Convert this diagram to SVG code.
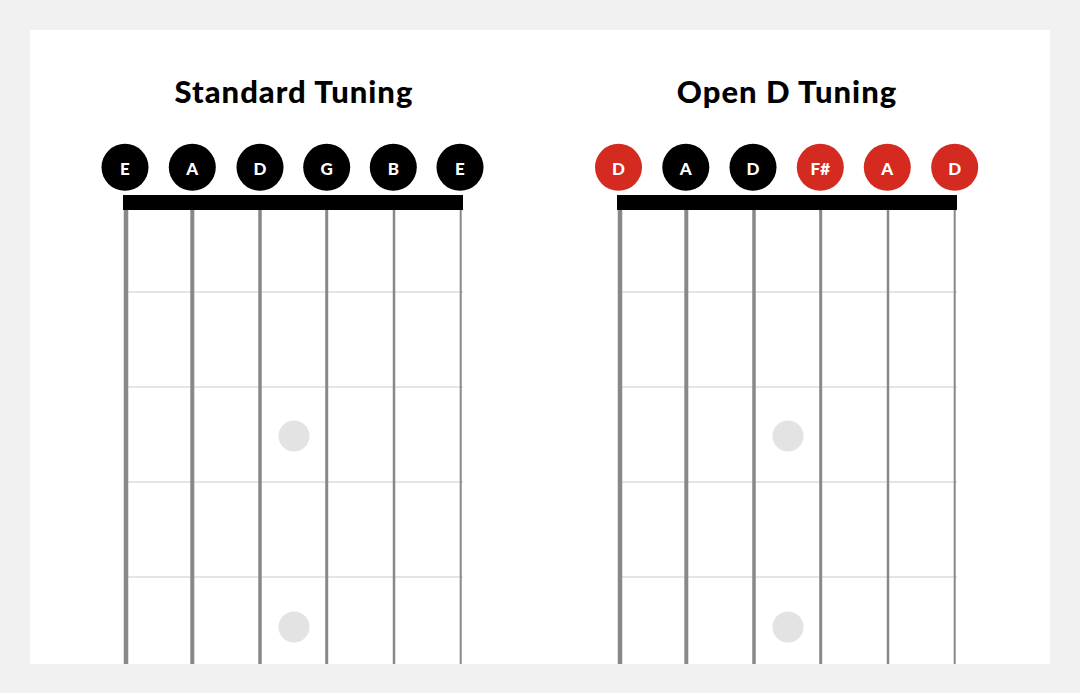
<svg xmlns="http://www.w3.org/2000/svg" width="1080" height="693" viewBox="0 0 1080 693">
<style>
.title{font-family:"Lato","Liberation Sans",sans-serif;font-weight:900;font-size:31px;letter-spacing:1px;fill:#000;text-anchor:middle}
.note{font-family:"Lato","Liberation Sans",sans-serif;font-weight:900;font-size:17px;fill:#fff;text-anchor:middle;dominant-baseline:central}
.blk{fill:#000}
.red{fill:#d42a1f}
.fret{stroke:#dcdcdc;stroke-width:1.5}
.str{stroke:#888}
.dot{fill:#e3e3e3}
</style>
<rect width="1080" height="693" fill="#f1f1f1"/>
<rect x="30" y="30" width="1020" height="634" fill="#fff"/>
<g id="standard">
<text class="title" x="294" y="103">Standard Tuning</text>
<g id="std-frets">
<line class="fret" x1="126" y1="292" x2="463" y2="292"/>
<line class="fret" x1="126" y1="387" x2="463" y2="387"/>
<line class="fret" x1="126" y1="482" x2="463" y2="482"/>
<line class="fret" x1="126" y1="577" x2="463" y2="577"/>
</g>
<circle class="dot" cx="294" cy="436" r="15.5"/>
<circle class="dot" cx="294" cy="627" r="15.5"/>
<g id="std-strings">
<line class="str" x1="126" y1="205" x2="126" y2="664" stroke-width="4.5"/>
<line class="str" x1="192.3" y1="205" x2="192.3" y2="664" stroke-width="4"/>
<line class="str" x1="260" y1="205" x2="260" y2="664" stroke-width="3.5"/>
<line class="str" x1="326.7" y1="205" x2="326.7" y2="664" stroke-width="3"/>
<line class="str" x1="394" y1="205" x2="394" y2="664" stroke-width="2.5"/>
<line class="str" x1="460.7" y1="205" x2="460.7" y2="664" stroke-width="2"/>
</g>
<rect class="blk" x="123" y="195" width="340" height="15"/>
<g id="std-E6"><circle class="blk" cx="125" cy="167.3" r="23.5"/><text class="note" x="125" y="168">E</text></g>
<g id="std-A"><circle class="blk" cx="192.3" cy="167.3" r="23.5"/><text class="note" x="192.3" y="168">A</text></g>
<g id="std-D"><circle class="blk" cx="260" cy="167.3" r="23.5"/><text class="note" x="260" y="168">D</text></g>
<g id="std-G"><circle class="blk" cx="326.7" cy="167.3" r="23.5"/><text class="note" x="326.7" y="168">G</text></g>
<g id="std-B"><circle class="blk" cx="393.3" cy="167.3" r="23.5"/><text class="note" x="393.3" y="168">B</text></g>
<g id="std-E1"><circle class="blk" cx="460" cy="167.3" r="23.5"/><text class="note" x="460" y="168">E</text></g>
</g>
<g id="openD">
<text class="title" x="787" y="103">Open D Tuning</text>
<g id="od-frets">
<line class="fret" x1="620" y1="292" x2="957" y2="292"/>
<line class="fret" x1="620" y1="387" x2="957" y2="387"/>
<line class="fret" x1="620" y1="482" x2="957" y2="482"/>
<line class="fret" x1="620" y1="577" x2="957" y2="577"/>
</g>
<circle class="dot" cx="788" cy="436" r="15.5"/>
<circle class="dot" cx="788" cy="627" r="15.5"/>
<g id="od-strings">
<line class="str" x1="620" y1="205" x2="620" y2="664" stroke-width="4.5"/>
<line class="str" x1="686.3" y1="205" x2="686.3" y2="664" stroke-width="4"/>
<line class="str" x1="754" y1="205" x2="754" y2="664" stroke-width="3.5"/>
<line class="str" x1="820.7" y1="205" x2="820.7" y2="664" stroke-width="3"/>
<line class="str" x1="888" y1="205" x2="888" y2="664" stroke-width="2.5"/>
<line class="str" x1="954.7" y1="205" x2="954.7" y2="664" stroke-width="2"/>
</g>
<rect class="blk" x="617" y="195" width="340" height="15"/>
<g id="od-D6"><circle class="red" cx="618.5" cy="167.3" r="23.5"/><text class="note" x="618.5" y="168">D</text></g>
<g id="od-A5"><circle class="blk" cx="685.8" cy="167.3" r="23.5"/><text class="note" x="685.8" y="168">A</text></g>
<g id="od-D4"><circle class="blk" cx="753" cy="167.3" r="23.5"/><text class="note" x="753" y="168">D</text></g>
<g id="od-F3"><circle class="red" cx="820.3" cy="167.3" r="23.5"/><text class="note" x="820.3" y="168">F#</text></g>
<g id="od-A2"><circle class="red" cx="887.3" cy="167.3" r="23.5"/><text class="note" x="887.3" y="168">A</text></g>
<g id="od-D1"><circle class="red" cx="954.7" cy="167.3" r="23.5"/><text class="note" x="954.7" y="168">D</text></g>
</g>
</svg>
